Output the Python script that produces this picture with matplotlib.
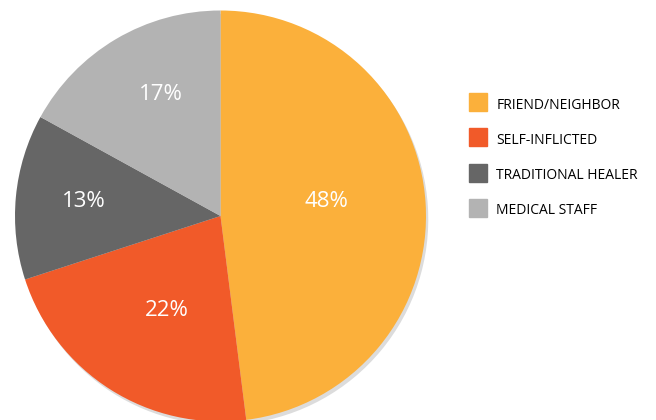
import numpy as np
import matplotlib.pyplot as plt
from matplotlib.lines import Line2D

labels = ["FRIEND/NEIGHBOR", "SELF-INFLICTED", "TRADITIONAL HEALER", "MEDICAL STAFF"]
shares = [48, 22, 13, 17]
colors = ["#FBB03B", "#F15A29", "#666666", "#B3B3B3"]
# label placement: fraction of radius, and angular nudge off the wedge middle
label_dist = [0.52, 0.53, 0.67, 0.66]
label_turn = [4.4, 2.8, -0.8, -4.6]

plt.rcParams["font.family"] = ["Open Sans", "DejaVu Sans"]

fig = plt.figure(figsize=(6.56, 4.2), dpi=100)
W, H = 656, 420
cx, cy, r = 220.5, 216, 205.5
ax = fig.add_axes([(cx - r) / W, (H - cy - r) / H, 2 * r / W, 2 * r / H])

wedges, _ = ax.pie(shares, colors=colors, startangle=90, counterclock=False,
                   radius=1,
                   shadow={"ox": 0.008, "oy": -0.012, "facecolor": "#dcdcdc",
                           "edgecolor": "none", "alpha": 1})
ax.set_xlim(-1, 1)
ax.set_ylim(-1, 1)
ax.set_aspect("equal")
ax.axis("off")

for w, v, d, t in zip(wedges, shares, label_dist, label_turn):
    ang = np.deg2rad((w.theta1 + w.theta2) / 2 + t)
    ax.text(d * np.cos(ang), d * np.sin(ang), f"{v}%", color="white",
            fontsize=16, ha="center", va="center")

handles = [Line2D([], [], ls="", marker="s", markersize=13.5, color=c) for c in colors]
fig.legend(handles, labels, loc="upper left", bbox_to_anchor=(469 / W, 1 - 96 / H),
           frameon=False, fontsize=10, handlelength=1.3, handleheight=1.4,
           labelspacing=1.33, handletextpad=0.66, borderaxespad=0, borderpad=0)

fig.savefig("out.png", dpi=100)
